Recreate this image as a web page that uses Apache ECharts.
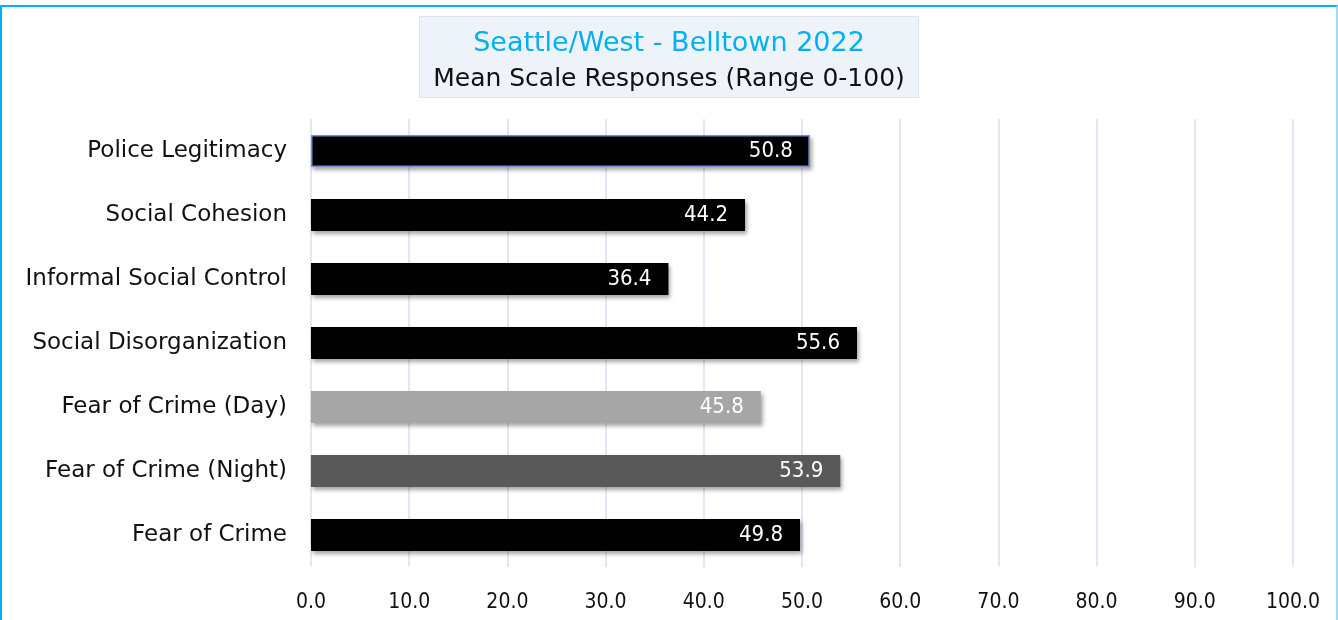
<!DOCTYPE html>
<html>
<head>
<meta charset="utf-8">
<script src="https://cdn.jsdelivr.net/npm/echarts@6/dist/echarts.min.js"></script>
<style>
  html, body { margin: 0; padding: 0; background: #fff; overflow: hidden; }
  .js-chart-frame { position: absolute; left: 0; top: 5px; width: 1334px; height: 640px;
    border: 2px solid #00b0f0; border-right-color: #9fdcf5; }
  .js-chart { position: absolute; left: 0; top: 0; width: 1338px; height: 620px; }
</style>
</head>
<body>
<div class="js-chart-frame"></div>
<div class="js-chart"></div>
<script>
var categories = ['Police Legitimacy', 'Social Cohesion', 'Informal Social Control',
    'Social Disorganization', 'Fear of Crime (Day)', 'Fear of Crime (Night)', 'Fear of Crime'];
var values = [50.8, 44.2, 36.4, 55.6, 45.8, 53.9, 49.8];
var barColors = ['#000000', '#000000', '#000000', '#000000', '#a6a6a6', '#595959', '#000000'];
var tickLabels = ['0.0', '10.0', '20.0', '30.0', '40.0', '50.0', '60.0', '70.0', '80.0', '90.0', '100.0'];

var chartHolder = document.querySelector('.js-chart');
var chart = echarts.init(chartHolder);
var font = '"DejaVu Sans", sans-serif';
var numFont = '"DejaVu Sans Condensed", "DejaVu Sans", sans-serif';

// echarts category axis goes bottom-up, so reverse to keep the first one on top
var cats = categories.slice().reverse();
var barData = values.map(function (v, i) {
    var item = {
        value: v,
        itemStyle: { color: barColors[i] }
    };
    if (i === 0) {
        item.itemStyle.borderColor = '#6f8fd0';
        item.itemStyle.borderWidth = 1.5;
    }
    return item;
}).reverse();

var option = {
    animation: false,
    title: {
        text: 'Seattle/West - Belltown 2022',
        subtext: 'Mean Scale Responses (Range 0-100)',
        left: 'center',
        top: 16,
        backgroundColor: '#eef3fa',
        borderColor: '#dde5f0',
        borderWidth: 1,
        padding: [14, 14, 6, 14],
        itemGap: 10,
        textStyle: { color: '#00b0f0', fontSize: 27, fontWeight: 'normal', fontFamily: font },
        subtextStyle: { color: '#111', fontSize: 25, fontFamily: font }
    },
    grid: {
        left: 311,
        right: 45,
        top: 119,
        bottom: 53,
        containLabel: false
    },
    xAxis: {
        type: 'value',
        min: 0,
        max: 100,
        interval: 10,
        axisLine: { show: false },
        axisTick: { show: false },
        splitLine: { show: true, lineStyle: { color: '#d6e0f2', width: 1.5 } },
        axisLabel: {
            margin: 25,
            color: '#111',
            fontSize: 21,
            fontFamily: numFont,
            formatter: function (v) { return tickLabels[Math.round(v / 10)]; }
        }
    },
    yAxis: {
        type: 'category',
        data: cats,
        axisLine: { show: false },
        axisTick: { show: false },
        axisLabel: { margin: 24, padding: [6, 0, 0, 0], color: '#111', fontSize: 23, fontFamily: font }
    },
    series: [{
        type: 'bar',
        barWidth: 32,
        data: barData,
        itemStyle: {
            shadowColor: 'rgba(0,0,0,0.35)',
            shadowBlur: 4,
            shadowOffsetX: 2,
            shadowOffsetY: 3
        },
        label: {
            show: true,
            position: 'insideRight',
            distance: 17,
            padding: [5, 0, 0, 0],
            color: '#fff',
            fontSize: 22,
            fontFamily: numFont,
            formatter: function (p) { return p.value.toFixed(1); }
        }
    }]
};

chart.setOption(option);
</script>
</body>
</html>
